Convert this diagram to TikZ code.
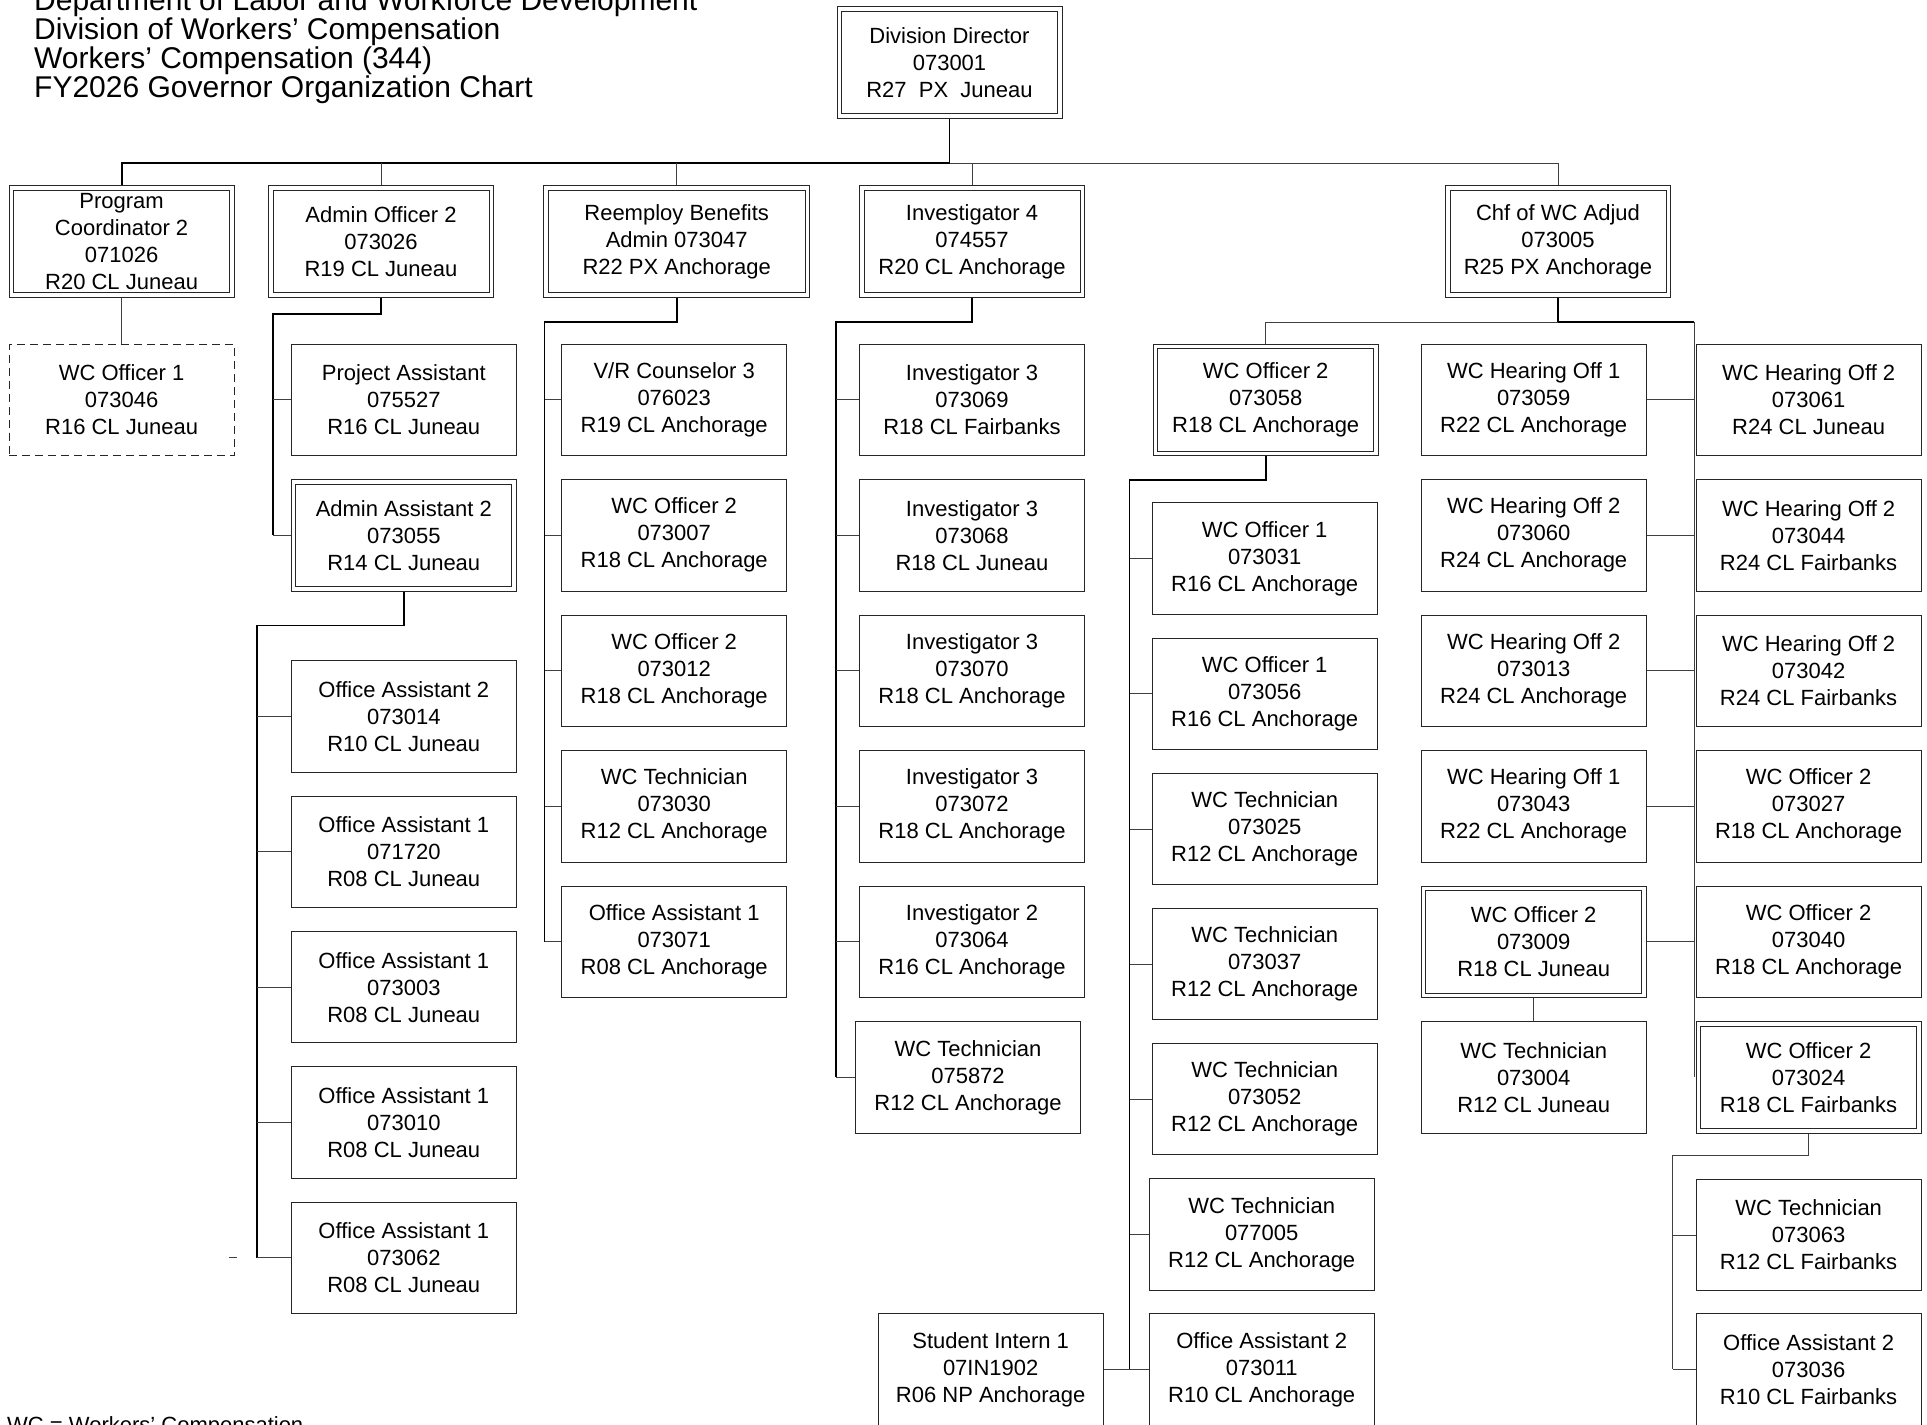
\documentclass[tikz,border=0pt]{standalone}
\usepackage{fontspec}
\setmainfont{Liberation Sans}
\usetikzlibrary{backgrounds}

\begin{document}
\begin{tikzpicture}[x=1pt,y=-1pt,
    post/.style={draw=black!85,line width=1pt,minimum width=225pt,minimum height=111.5pt,inner sep=0pt,align=center,font=\fontsize{22}{27}\selectfont},
    dpost/.style={post,double=white,double distance=3.5pt,minimum width=220.5pt,minimum height=107pt},
    vac/.style={post,dash pattern=on 8pt off 5pt},
    trunk/.style={line width=1.8pt,black},
    twig/.style={line width=1pt,black!75},
    head/.style={anchor=base west,inner sep=0pt,font=\fontsize{30}{29}\selectfont}]
    \useasboundingbox (0,0) rectangle (1927,1424);

    \node[head] (t1) at (34,10.3) {Department of Labor and Workforce Development};
    \node[head] (t2) at (34,39.3) {Division of Workers’ Compensation};
    \node[head] (t3) at (34,68.3) {Workers’ Compensation (344)};
    \node[head] (t4) at (34,97.3) {FY2026 Governor Organization Chart};
    \node[head,font=\fontsize{22}{27}\selectfont] (key) at (7,1432.8) {WC = Workers’ Compensation};

    \node[dpost] (dir) at (949.5,62.5) {Division Director\\073001\\R27~~PX~~Juneau};

    \node[dpost] (pc) at (121.6,241.5) {Program\\Coordinator 2\\071026\\R20 CL Juneau};
    \node[dpost] (ao) at (381,241.5) {Admin Officer 2\\073026\\R19 CL Juneau};
    \node[dpost,minimum width=261.5pt] (rb) at (676.7,241.5) {Reemploy Benefits\\Admin 073047\\R22 PX Anchorage};
    \node[dpost] (inv) at (972,241.5) {Investigator 4\\074557\\R20 CL Anchorage};
    \node[dpost] (chf) at (1558,241.5) {Chf of WC Adjud\\073005\\R25 PX Anchorage};

    \node[vac] (wo1) at (121.6,399.8) {WC Officer 1\\073046\\R16 CL Juneau};

    \node[post] (pa) at (403.8,399.8) {Project Assistant\\075527\\R16 CL Juneau};
    \node[dpost] (aa) at (403.8,535.3) {Admin Assistant 2\\073055\\R14 CL Juneau};
    \node[post] (o1) at (403.8,716.6) {Office Assistant 2\\073014\\R10 CL Juneau};
    \node[post] (o2) at (403.8,851.9) {Office Assistant 1\\071720\\R08 CL Juneau};
    \node[post] (o3) at (403.8,987.2) {Office Assistant 1\\073003\\R08 CL Juneau};
    \node[post] (o4) at (403.8,1122.5) {Office Assistant 1\\073010\\R08 CL Juneau};
    \node[post] (o5) at (403.8,1257.8) {Office Assistant 1\\073062\\R08 CL Juneau};

    \node[post] (r1) at (674.2,399.8) {V/R Counselor 3\\076023\\R19 CL Anchorage};
    \node[post] (r2) at (674.2,535.3) {WC Officer 2\\073007\\R18 CL Anchorage};
    \node[post] (r3) at (674.2,670.8) {WC Officer 2\\073012\\R18 CL Anchorage};
    \node[post] (r4) at (674.2,806.3) {WC Technician\\073030\\R12 CL Anchorage};
    \node[post] (r5) at (674.2,941.8) {Office Assistant 1\\073071\\R08 CL Anchorage};

    \node[post] (i1) at (972,399.8) {Investigator 3\\073069\\R18 CL Fairbanks};
    \node[post] (i2) at (972,535.3) {Investigator 3\\073068\\R18 CL Juneau};
    \node[post] (i3) at (972,670.8) {Investigator 3\\073070\\R18 CL Anchorage};
    \node[post] (i4) at (972,806.3) {Investigator 3\\073072\\R18 CL Anchorage};
    \node[post] (i5) at (972,941.8) {Investigator 2\\073064\\R16 CL Anchorage};
    \node[post] (i6) at (968,1077.3) {WC Technician\\075872\\R12 CL Anchorage};

    \node[dpost] (wco) at (1265.7,399.8) {WC Officer 2\\073058\\R18 CL Anchorage};
    \node[post] (w1) at (1264.7,558.6) {WC Officer 1\\073031\\R16 CL Anchorage};
    \node[post] (w2) at (1264.7,693.8) {WC Officer 1\\073056\\R16 CL Anchorage};
    \node[post] (w3) at (1264.7,829) {WC Technician\\073025\\R12 CL Anchorage};
    \node[post] (w4) at (1264.7,964) {WC Technician\\073037\\R12 CL Anchorage};
    \node[post] (w5) at (1264.7,1099.2) {WC Technician\\073052\\R12 CL Anchorage};
    \node[post] (w6) at (1261.7,1234.3) {WC Technician\\077005\\R12 CL Anchorage};
    \node[post] (w7) at (1261.7,1369.4) {Office Assistant 2\\073011\\R10 CL Anchorage};
    \node[post] (si) at (990.7,1369.4) {Student Intern 1\\07IN1902\\R06 NP Anchorage};

    \node[post] (h1) at (1533.7,399.8) {WC Hearing Off 1\\073059\\R22 CL Anchorage};
    \node[post] (h2) at (1533.7,535.3) {WC Hearing Off 2\\073060\\R24 CL Anchorage};
    \node[post] (h3) at (1533.7,670.8) {WC Hearing Off 2\\073013\\R24 CL Anchorage};
    \node[post] (h4) at (1533.7,806.3) {WC Hearing Off 1\\073043\\R22 CL Anchorage};
    \node[dpost] (h5) at (1533.7,941.8) {WC Officer 2\\073009\\R18 CL Juneau};
    \node[post] (h6) at (1533.7,1077.3) {WC Technician\\073004\\R12 CL Juneau};

    \node[post] (g1) at (1808.6,399.8) {WC Hearing Off 2\\073061\\R24 CL Juneau};
    \node[post] (g2) at (1808.6,535.3) {WC Hearing Off 2\\073044\\R24 CL Fairbanks};
    \node[post] (g3) at (1808.6,670.8) {WC Hearing Off 2\\073042\\R24 CL Fairbanks};
    \node[post] (g4) at (1808.6,806.3) {WC Officer 2\\073027\\R18 CL Anchorage};
    \node[post] (g5) at (1808.6,941.8) {WC Officer 2\\073040\\R18 CL Anchorage};
    \node[dpost] (g6) at (1808.6,1077.3) {WC Officer 2\\073024\\R18 CL Fairbanks};
    \node[post] (g7) at (1808.6,1235) {WC Technician\\073063\\R12 CL Fairbanks};
    \node[post] (g8) at (1808.6,1369.4) {Office Assistant 2\\073036\\R10 CL Fairbanks};

    \coordinate (top) at (121.6,163);
    \coordinate (aoT) at (273,314);
    \coordinate (aaT) at (257,625.5);
    \coordinate (rbT) at (544.5,322);
    \coordinate (invT) at (836,322);
    \coordinate (chfT) at (1694,322);
    \coordinate (wcoT) at (1129.5,480);
    \coordinate (g6T) at (1672.7,1155.7);
    \coordinate (tick) at (233,1257.8);

    \begin{pgfonlayer}{background}
    \fill[white] (0,0) rectangle (1927,1424);
    \draw[trunk] (dir.south) |- (top) -- (pc.north);
    \draw[twig] (dir.south |- top) -| (chf.north);
    \draw[twig] (ao.north) -- (ao.north |- top);
    \draw[twig] (rb.north) -- (rb.north |- top);
    \draw[twig] (inv.north) -- (inv.north |- top);
    \draw[twig] (pc.south) -- (wo1.north);

    \draw[trunk] (ao.south) |- (aoT) -- (aoT |- aa.west);
    \draw[twig] (aoT |- pa.west) -- (pa.west);
    \draw[twig] (aoT |- aa.west) -- (aa.west);

    \draw[trunk] (aa.south) |- (aaT) -- (aaT |- o5.west);
    \draw[twig] (aaT |- o1.west) -- (o1.west);
    \draw[twig] (aaT |- o2.west) -- (o2.west);
    \draw[twig] (aaT |- o3.west) -- (o3.west);
    \draw[twig] (aaT |- o4.west) -- (o4.west);
    \draw[twig] (aaT |- o5.west) -- (o5.west);
    \draw[twig] ([xshift=-4pt]tick) -- ([xshift=4pt]tick);

    \draw[trunk] (rb.south) |- (rbT) -- (rbT |- r5.west);
    \draw[twig] (rbT |- r1.west) -- (r1.west);
    \draw[twig] (rbT |- r2.west) -- (r2.west);
    \draw[twig] (rbT |- r3.west) -- (r3.west);
    \draw[twig] (rbT |- r4.west) -- (r4.west);
    \draw[twig] (rbT |- r5.west) -- (r5.west);

    \draw[trunk] (inv.south) |- (invT) -- (invT |- i6.west);
    \draw[twig] (invT |- i1.west) -- (i1.west);
    \draw[twig] (invT |- i2.west) -- (i2.west);
    \draw[twig] (invT |- i3.west) -- (i3.west);
    \draw[twig] (invT |- i4.west) -- (i4.west);
    \draw[twig] (invT |- i5.west) -- (i5.west);
    \draw[twig] (invT |- i6.west) -- (i6.west);

    \draw[trunk] (chf.south) |- (chfT);
    \draw[twig] (chf.south |- chfT) -| (wco.north);
    \draw[twig] (chfT) -- (chfT |- g6.west);
    \draw[twig] (h1.east) -- (h1.east -| chfT);
    \draw[twig] (h2.east) -- (h2.east -| chfT);
    \draw[twig] (h3.east) -- (h3.east -| chfT);
    \draw[twig] (h4.east) -- (h4.east -| chfT);
    \draw[twig] (h5.east) -- (h5.east -| chfT);
    \draw[twig] (h5.south) -- (h6.north);

    \draw[trunk] (wco.south) |- (wcoT) -- (wcoT |- w7.west);
    \draw[twig] (wcoT |- w1.west) -- (w1.west);
    \draw[twig] (wcoT |- w2.west) -- (w2.west);
    \draw[twig] (wcoT |- w3.west) -- (w3.west);
    \draw[twig] (wcoT |- w4.west) -- (w4.west);
    \draw[twig] (wcoT |- w5.west) -- (w5.west);
    \draw[twig] (wcoT |- w6.west) -- (w6.west);
    \draw[twig] (wcoT |- w7.west) -- (w7.west);
    \draw[twig] (si.east) -- (si.east -| wcoT);

    \draw[twig] (g6.south) |- (g6T) -- (g6T |- g8.west);
    \draw[twig] (g6T |- g7.west) -- (g7.west);
    \draw[twig] (g6T |- g8.west) -- (g8.west);
    \end{pgfonlayer}
\end{tikzpicture}
\end{document}
